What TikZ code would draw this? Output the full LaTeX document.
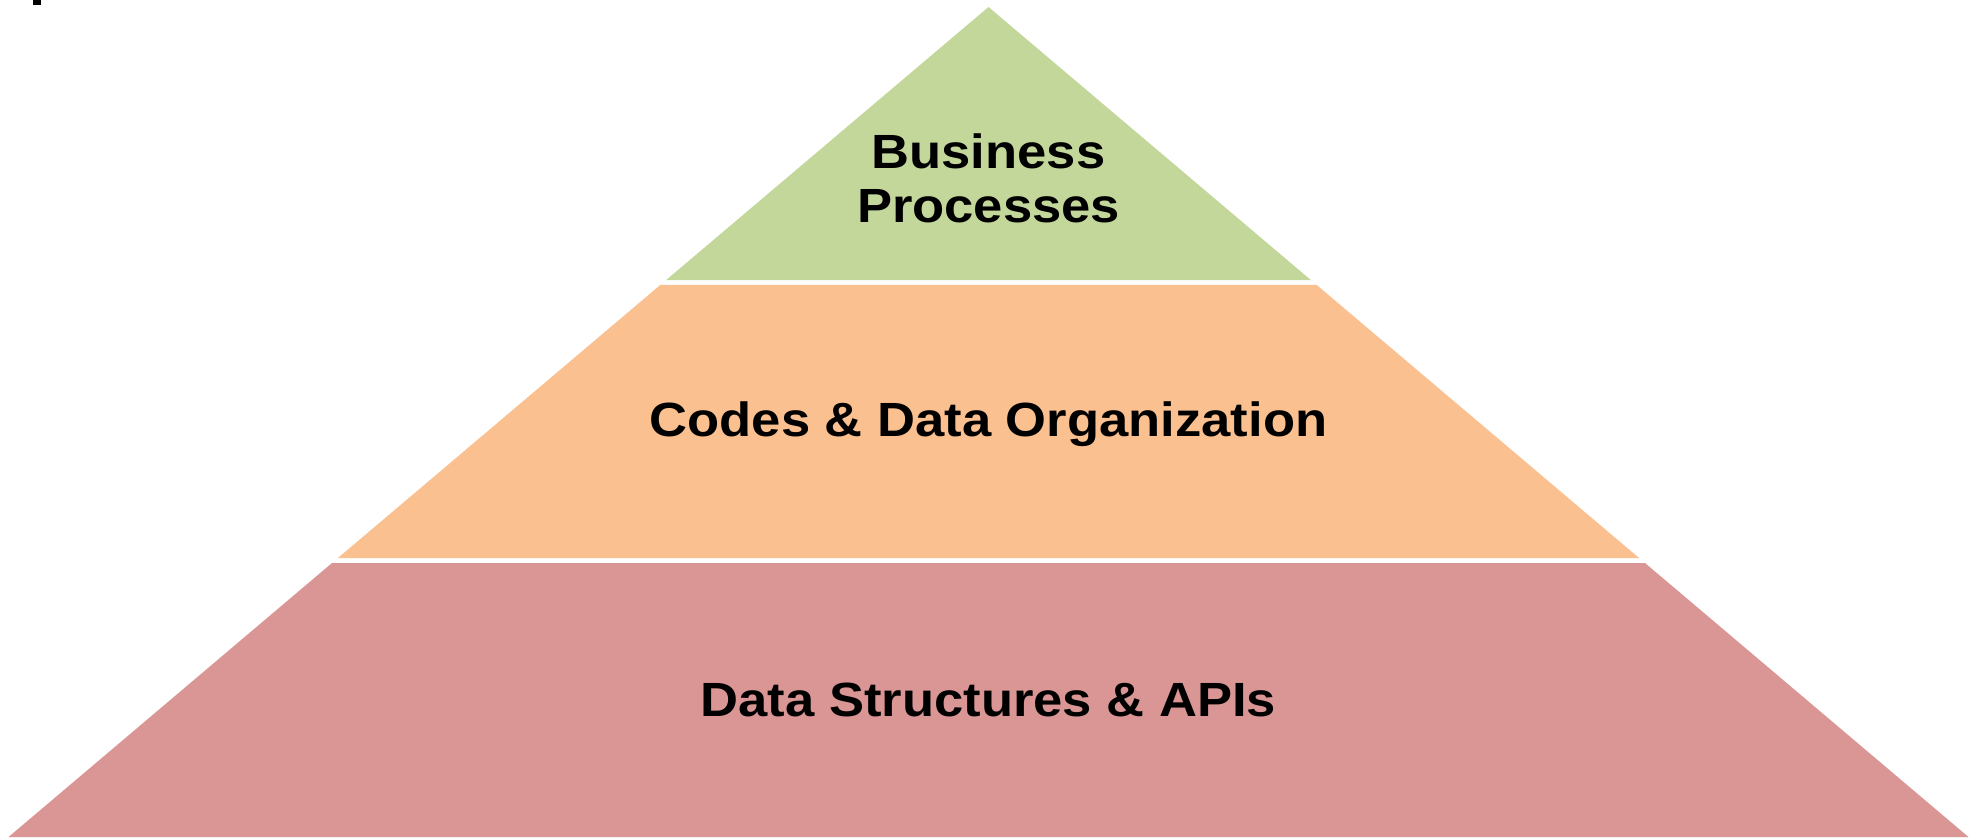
\documentclass[tikz,border=0pt]{standalone}
\usepackage{fontspec}
\setmainfont{Liberation Sans}[FakeStretch=1.095]
\usetikzlibrary{calc}
\definecolor{topgreen}{HTML}{C4D79B}
\definecolor{midorange}{HTML}{FAC090}
\definecolor{basered}{HTML}{D99694}
\tikzset{
  band/.style={draw=none},
  label/.style={font=\bfseries\fontsize{24}{27}\selectfont, text=black, align=center, inner sep=0pt}
}
\begin{document}
\begin{tikzpicture}[x=0.5pt,y=-0.5pt]
\useasboundingbox (0,0) rectangle (1980,837);
\coordinate (A) at (988.5,7);
\coordinate (L) at (8.5,837);
\coordinate (R) at (1968.5,837);
% top band
\fill[band, topgreen] (A) -- ($(A)!0.3289!(R)$) -- ($(A)!0.3289!(L)$) -- cycle;
% middle band
\fill[band, midorange] ($(A)!0.3349!(L)$) -- ($(A)!0.3349!(R)$) -- ($(A)!0.6639!(R)$) -- ($(A)!0.6639!(L)$) -- cycle;
% bottom band
\fill[band, basered] ($(A)!0.6699!(L)$) -- ($(A)!0.6699!(R)$) -- (R) -- (L) -- cycle;
% small mark top-left
\fill[black] (33,0) rectangle (41,5);
\node[label] (t1) at (988.5,178) {Business\\Processes};
\node[label] (t2) at (988.5,424) {Codes \& Data Organization};
\node[label] (t3) at (988.5,700) {Data Structures \& APIs};
\end{tikzpicture}
\end{document}
